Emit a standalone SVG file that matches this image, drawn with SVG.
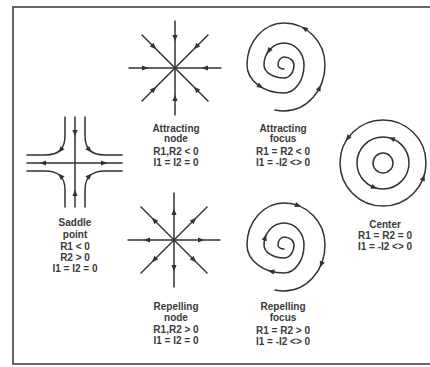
<svg xmlns="http://www.w3.org/2000/svg" xmlns:xlink="http://www.w3.org/1999/xlink" width="430" height="367" viewBox="0 0 430 367">
<style>
.ln{fill:none;stroke:#333;stroke-width:1.5;stroke-linecap:round}
.frame{fill:none;stroke:#666;stroke-width:2}
.ah{fill:#333}
text{font-family:"Liberation Sans",Arial,sans-serif;font-size:10px;font-weight:bold;fill:#3a3a3a;text-anchor:middle}
</style>
<defs>
<path id="ah" d="M3.5,0 L-3,-2.6 L-3,2.6 Z"/>
<path id="spiral" d="M-9,45.1 A46 46 0 0 0 0 46 A41 46 0 0 0 41 0 A41 42 0 0 0 0 -42 A37 42 0 0 0 -37 0 A37 28 0 0 0 0 28 A20 28 0 0 0 20 0 A20 22 0 0 0 0 -22 A20 22 0 0 0 -20 0 A20 13 0 0 0 0 13 A10 13 0 0 0 10 0 A10 8 0 0 0 0 -8 A6 8 0 0 0 -6 0 A6 4 0 0 0 0 4"/>
<g id="star" class="ln">
<line x1="0" y1="-47" x2="0" y2="47"/>
<line x1="-46" y1="0" x2="46" y2="0"/>
<line x1="-33" y1="-33" x2="33" y2="33"/>
<line x1="-33" y1="33" x2="33" y2="-33"/>
</g>
</defs>
<rect class="frame" x="13" y="7" width="422" height="357"/>

<g id="saddle">
<g class="ln">
<line x1="75" y1="117" x2="75" y2="207"/>
<line x1="27" y1="163" x2="122" y2="163"/>
<path d="M65,117 L65,135 C65,148 60,155 45,155 L27,155"/>
<path d="M85,117 L85,135 C85,148 90,155 105,155 L122,155"/>
<path d="M27,171 L45,171 C60,171 65,178 65,190 L65,207"/>
<path d="M122,171 L105,171 C90,171 85,178 85,190 L85,207"/>
</g>
<g class="ah">
<use xlink:href="#ah" transform="translate(75,133) rotate(90)"/>
<use xlink:href="#ah" transform="translate(75,193) rotate(-90)"/>
<use xlink:href="#ah" transform="translate(43,163) rotate(180)"/>
<use xlink:href="#ah" transform="translate(104,163)"/>
<use xlink:href="#ah" transform="translate(60.6,150) rotate(133)"/>
<use xlink:href="#ah" transform="translate(89.4,150) rotate(47)"/>
<use xlink:href="#ah" transform="translate(60.6,176) rotate(-134)"/>
<use xlink:href="#ah" transform="translate(89.4,176) rotate(-46)"/>
</g>
<text x="75" y="226">Saddle</text>
<text x="75" y="238">point</text>
<text x="75" y="250">R1 &lt; 0</text>
<text x="75" y="261">R2 &gt; 0</text>
<text x="75" y="272">I1 = I2 = 0</text>
</g>

<g id="attracting-node">
<use xlink:href="#star" transform="translate(175,68)"/>
<g class="ah">
<use xlink:href="#ah" transform="translate(175,38) rotate(90)"/>
<use xlink:href="#ah" transform="translate(175,98) rotate(-90)"/>
<use xlink:href="#ah" transform="translate(145,68)"/>
<use xlink:href="#ah" transform="translate(205,68) rotate(180)"/>
<use xlink:href="#ah" transform="translate(153.8,46.8) rotate(45)"/>
<use xlink:href="#ah" transform="translate(196.2,46.8) rotate(135)"/>
<use xlink:href="#ah" transform="translate(153.8,89.2) rotate(-45)"/>
<use xlink:href="#ah" transform="translate(196.2,89.2) rotate(-135)"/>
</g>
<text x="176" y="131.5">Attracting</text>
<text x="176" y="142">node</text>
<text x="176" y="154.5">R1,R2 &lt; 0</text>
<text x="176" y="165.5">I1 = I2 = 0</text>
</g>

<g id="attracting-focus">
<use xlink:href="#spiral" class="ln" transform="translate(284,65)"/>
<g class="ah">
<use xlink:href="#ah" transform="translate(319.5,88) rotate(-63)"/>
<use xlink:href="#ah" transform="translate(304.5,28.6) rotate(-149)"/>
<use xlink:href="#ah" transform="translate(260.2,86.4) rotate(32)"/>
<use xlink:href="#ah" transform="translate(268.7,50.9) rotate(127)"/>
</g>
<text x="283" y="131.5">Attracting</text>
<text x="283" y="142">focus</text>
<text x="283" y="154.5">R1 = R2 &lt; 0</text>
<text x="283" y="165.5">I1 = -I2 &lt;&gt; 0</text>
</g>

<g id="center">
<g class="ln">
<circle cx="383" cy="163" r="43"/>
<circle cx="383" cy="163" r="26"/>
<circle cx="383" cy="163" r="10"/>
</g>
<g class="ah">
<use xlink:href="#ah" transform="translate(347.8,138.3) rotate(125)"/>
<use xlink:href="#ah" transform="translate(423.4,177.7) rotate(-70)"/>
<use xlink:href="#ah" transform="translate(391.9,138.6) rotate(-160)"/>
<use xlink:href="#ah" transform="translate(374.1,187.4) rotate(20)"/>
</g>
<text x="385" y="227.5">Center</text>
<text x="385" y="239">R1 = R2 = 0</text>
<text x="385" y="250">I1 = -I2 &lt;&gt; 0</text>
</g>

<g id="repelling-node">
<use xlink:href="#star" transform="translate(174,240)"/>
<g class="ah">
<use xlink:href="#ah" transform="translate(174,212) rotate(-90)"/>
<use xlink:href="#ah" transform="translate(174,268) rotate(90)"/>
<use xlink:href="#ah" transform="translate(147,240) rotate(180)"/>
<use xlink:href="#ah" transform="translate(201,240)"/>
<use xlink:href="#ah" transform="translate(154.2,220.2) rotate(-135)"/>
<use xlink:href="#ah" transform="translate(193.8,220.2) rotate(-45)"/>
<use xlink:href="#ah" transform="translate(154.2,259.8) rotate(135)"/>
<use xlink:href="#ah" transform="translate(193.8,259.8) rotate(45)"/>
</g>
<text x="176" y="309.5">Repelling</text>
<text x="176" y="320.5">node</text>
<text x="176" y="333">R1,R2 &gt; 0</text>
<text x="176" y="344">I1 = I2 = 0</text>
</g>

<g id="repelling-focus">
<use xlink:href="#spiral" class="ln" transform="translate(284,245)"/>
<g class="ah">
<use xlink:href="#ah" transform="translate(298,205.5) rotate(20)"/>
<use xlink:href="#ah" transform="translate(321.2,264.4) rotate(112)"/>
<use xlink:href="#ah" transform="translate(271.3,271.3) rotate(-165)"/>
<use xlink:href="#ah" transform="translate(265.2,237.5) rotate(-72)"/>
</g>
<text x="283" y="310">Repelling</text>
<text x="283" y="321">focus</text>
<text x="283" y="333.5">R1 = R2 &gt; 0</text>
<text x="283" y="344.5">I1 = -I2 &lt;&gt; 0</text>
</g>

<g id="connectors"></g>
</svg>
